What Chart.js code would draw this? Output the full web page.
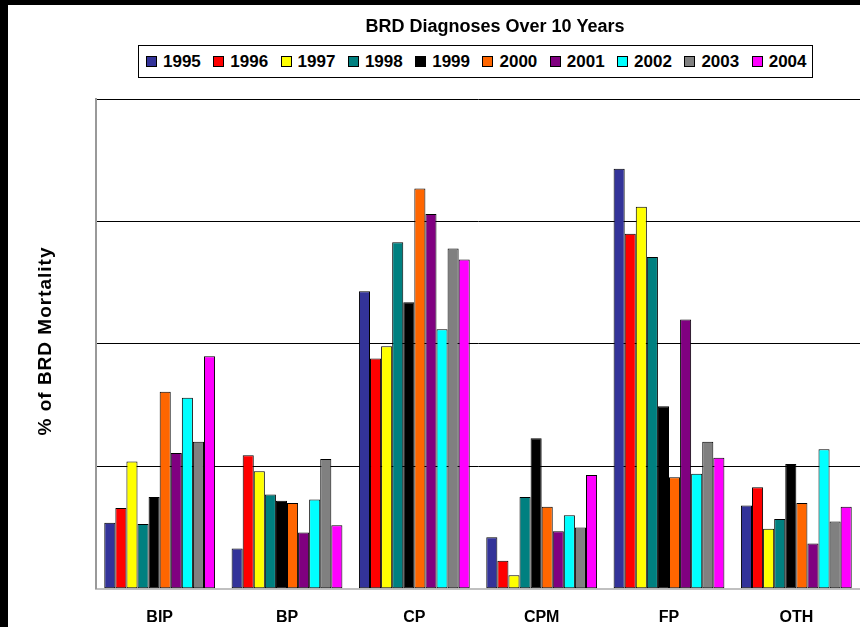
<!DOCTYPE html>
<html>
<head>
<meta charset="utf-8">
<title>BRD Diagnoses Over 10 Years</title>
<script src="https://cdn.jsdelivr.net/npm/chart.js@4.4.1/dist/chart.umd.min.js"></script>
<style>
  html, body { margin: 0; padding: 0; background: #fff; }
  #wrap { position: relative; width: 860px; height: 627px; overflow: hidden; font-family: "Liberation Sans", Arial, sans-serif; }
  #chart { position: absolute; left: 0; top: 0; }
  .edge { position: absolute; background: #000; }
  #legend {
    position: absolute; left: 138px; top: 45px; width: 675px; height: 33px;
    border: 1px solid #000; box-sizing: border-box; background: #fff;
    display: flex; align-items: center; padding-left: 7px;
  }
  .item { display: flex; align-items: center; width: 67.3px; flex: none; font-weight: bold; font-size: 17px; color: #000; }
  .swatch { width: 9px; height: 9px; border: 1px solid #000; margin-right: 6px; flex: none; }
</style>
</head>
<body>
<div id="wrap">
  <canvas id="chart" width="860" height="648"></canvas>
  <div id="legend"></div>
  <div class="edge" style="left:0;top:0;width:8px;height:627px"></div>
  <div class="edge" style="left:0;top:0;width:860px;height:5px"></div>
</div>
<script>
// Categorias e séries
const categories = ['BIP', 'BP', 'CP', 'CPM', 'FP', 'OTH'];
const years = ['1995', '1996', '1997', '1998', '1999', '2000', '2001', '2002', '2003', '2004'];
const yearColors = ['#333399', '#ff0000', '#ffff00', '#008080', '#000000', '#ff6600', '#800080', '#00ffff', '#808080', '#ff00ff'];

const v1995 = [5.4, 3.3, 24.3, 4.2, 34.3, 6.8];
const v1996 = [6.6, 10.9, 18.8, 2.3, 29.0, 8.3];
const v1997 = [10.4, 9.6, 19.8, 1.1, 31.2, 4.9];
const v1998 = [5.3, 7.7, 28.3, 7.5, 27.1, 5.7];
const v1999 = [7.5, 7.2, 23.4, 12.3, 14.9, 10.2];
const v2000 = [16.1, 7.0, 32.7, 6.7, 9.1, 7.0];
const v2001 = [11.1, 4.6, 30.6, 4.7, 22.0, 3.7];
const v2002 = [15.6, 7.3, 21.2, 6.0, 9.4, 11.4];
const v2003 = [12.0, 10.6, 27.8, 5.0, 12.0, 5.5];
const v2004 = [19.0, 5.2, 26.9, 9.3, 10.7, 6.7];
const seriesValues = [v1995, v1996, v1997, v1998, v1999, v2000, v2001, v2002, v2003, v2004];

const yTicks = [0, 10, 20, 30, 40];

const FONT = '"Liberation Sans", Arial, sans-serif';

// Legenda em HTML com caixa
const legendEl = document.getElementById('legend');
years.forEach((y, i) => {
  const item = document.createElement('div');
  item.className = 'item';
  const sw = document.createElement('span');
  sw.className = 'swatch';
  sw.style.background = yearColors[i];
  item.appendChild(sw);
  item.appendChild(document.createTextNode(y));
  legendEl.appendChild(item);
});

// Título e rótulo do eixo Y desenhados à mão
const textPlugin = {
  id: 'texts',
  afterDraw(chart) {
    const ctx = chart.ctx;
    ctx.save();
    ctx.fillStyle = '#000';
    ctx.textAlign = 'center';
    ctx.textBaseline = 'middle';
    ctx.font = 'bold 18px ' + FONT;
    ctx.fillText('BRD Diagnoses Over 10 Years', 495, 27);
    ctx.translate(46, 341);
    ctx.rotate(-Math.PI / 2);
    ctx.font = 'bold 19px ' + FONT;
    ctx.letterSpacing = '1px';
    ctx.fillText('% of BRD Mortality', 0, 0);
    ctx.restore();
  }
};

new Chart(document.getElementById('chart'), {
  type: 'bar',
  data: {
    labels: categories,
    datasets: years.map((y, i) => ({
      label: y,
      data: seriesValues[i],
      backgroundColor: yearColors[i],
      borderColor: '#000',
      borderWidth: 1,
      borderSkipped: false
    }))
  },
  options: {
    responsive: false,
    animation: false,
    layout: { padding: { left: 96, top: 99, right: 0, bottom: 2 } },
    plugins: {
      legend: { display: false },
      title: { display: false },
      tooltip: { enabled: false }
    },
    datasets: { bar: { categoryPercentage: 0.87, barPercentage: 1.0 } },
    scales: {
      x: {
        grid: { display: false, drawTicks: false },
        border: { color: '#c0c0c0', width: 2 },
        ticks: { color: '#000', padding: 19, font: { family: FONT, size: 16, weight: 'bold' } }
      },
      y: {
        min: yTicks[0],
        max: yTicks[yTicks.length - 1],
        afterBuildTicks: axis => { axis.ticks = yTicks.map(v => ({ value: v })); },
        grid: {
          drawTicks: false,
          color: c => (c.tick && c.tick.value === 0 ? 'rgba(0,0,0,0)' : '#000'),
          lineWidth: 1
        },
        border: { color: '#999', width: 2 },
        ticks: { display: false }
      }
    }
  },
  plugins: [textPlugin]
});
</script>
</body>
</html>
